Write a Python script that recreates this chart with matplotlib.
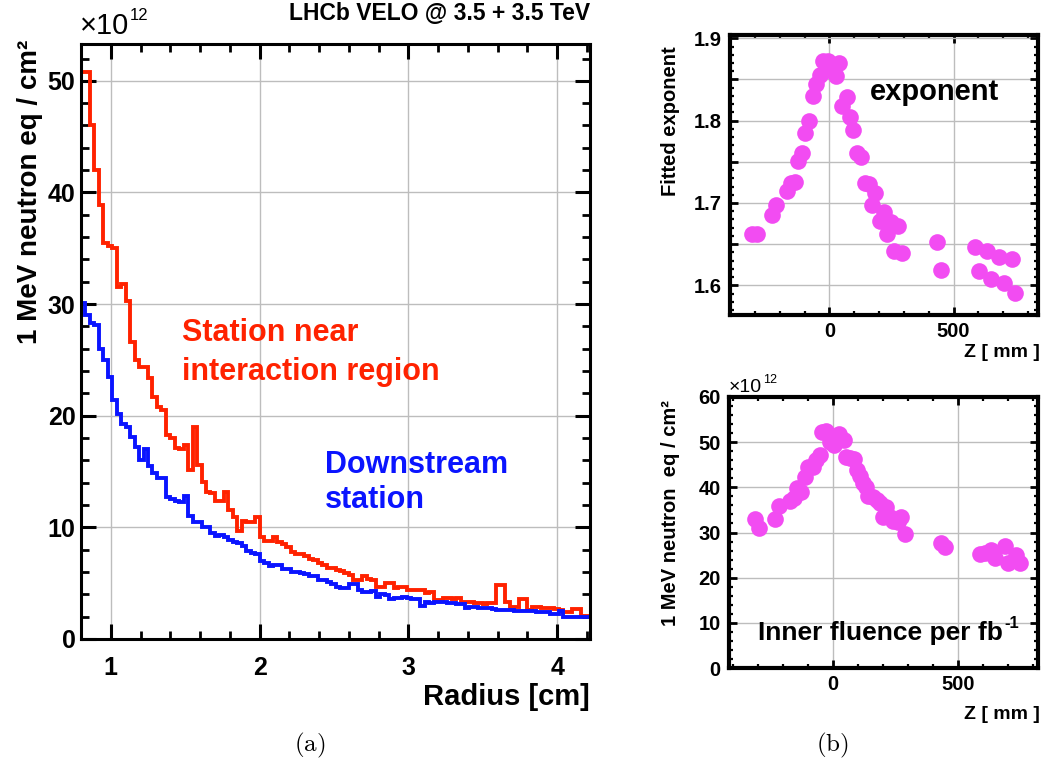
import numpy as np
import matplotlib
matplotlib.use('Agg')
import matplotlib.pyplot as plt
from matplotlib.ticker import MultipleLocator, FuncFormatter

plt.rcParams['font.family'] = ['Liberation Sans', 'DejaVu Sans']
plt.rcParams['font.weight'] = 'bold'
plt.rcParams['mathtext.fontset'] = 'cm'

# ---- data (a): fluence vs radius, bins of 0.03 cm from 0.8 cm ----
r_edges = np.linspace(0.80, 4.25, 116)
near_station = [
    50.8, 50.8, 46.0, 42.0, 38.9, 35.5, 35.2, 35.0, 31.5, 31.8,
    30.3, 26.6, 25.0, 24.4, 24.4, 23.4, 21.7, 20.8, 20.5, 18.3,
    18.0, 17.1, 17.0, 17.4, 15.1, 19.0, 15.6, 14.1, 13.2, 13.1,
    12.4, 12.4, 13.2, 11.6, 10.9, 9.7, 10.6, 10.5, 10.5, 10.9,
    9.1, 8.8, 8.8, 9.1, 8.7, 8.5, 8.2, 7.8, 7.6, 7.6,
    7.4, 7.2, 7.1, 6.8, 6.6, 6.4, 6.4, 6.2, 6.1, 5.9,
    5.7, 5.3, 5.3, 5.6, 5.4, 5.3, 4.7, 4.7, 5.0, 5.0,
    4.6, 4.7, 4.7, 4.4, 4.4, 4.4, 4.4, 4.1, 4.2, 3.5,
    3.5, 3.7, 3.7, 3.6, 3.7, 3.3, 3.3, 3.3, 3.2, 3.2,
    3.1, 3.2, 3.2, 4.8, 4.8, 3.3, 2.9, 2.9, 3.6, 3.6,
    2.6, 2.9, 2.9, 2.8, 2.8, 2.8, 2.7, 2.6, 2.4, 2.4,
    2.7, 2.7, 2.1, 2.1, 2.0]
downstream = [
    30.1, 29.0, 28.3, 28.1, 26.0, 25.0, 23.5, 21.4, 20.2, 19.3,
    19.0, 18.1, 17.2, 16.0, 17.0, 15.5, 14.9, 14.4, 14.4, 12.7,
    12.5, 12.4, 12.3, 12.8, 11.0, 10.5, 10.5, 10.0, 10.0, 9.5,
    9.2, 9.3, 9.1, 8.9, 8.7, 8.6, 8.3, 7.9, 7.7, 7.6,
    7.0, 6.8, 6.5, 6.6, 6.6, 6.3, 6.3, 6.0, 6.0, 5.9,
    5.8, 5.6, 5.6, 5.3, 5.3, 5.1, 4.9, 4.7, 4.6, 4.6,
    4.9, 4.9, 4.4, 4.2, 4.2, 4.3, 3.8, 4.0, 3.9, 3.6,
    3.7, 3.7, 3.8, 3.7, 3.6, 3.6, 3.0, 3.3, 3.2, 3.3,
    3.3, 3.3, 3.2, 3.2, 3.1, 3.1, 2.8, 2.9, 2.9, 2.8,
    2.8, 2.8, 2.7, 2.6, 2.6, 2.6, 2.6, 2.5, 2.5, 2.5,
    2.5, 2.5, 2.4, 2.4, 2.4, 2.2, 2.2, 2.5, 2.0, 2.0,
    2.0, 2.0, 2.0, 2.0, 2.0]

# ---- data (b): fitted exponent and inner fluence vs z ----
z_exp = [-313, -293, -230, -215, -172, -156, -138, -125, -112, -98,
         -81, -67, -54, -38, -27, -4, 9, 23, 27, 40,
         50, 70, 83, 97, 110, 126, 144, 161, 171, 184,
         202, 218, 231, 247, 261, 278, 292, 433, 450, 585,
         601, 634, 650, 681, 702, 735, 749]
exponent = [1.662, 1.662, 1.686, 1.698, 1.715, 1.724, 1.725, 1.751, 1.761, 1.785,
            1.800, 1.830, 1.845, 1.856, 1.872, 1.872, 1.860, 1.866, 1.854, 1.870,
            1.818, 1.829, 1.804, 1.789, 1.761, 1.756, 1.724, 1.723, 1.698, 1.712,
            1.678, 1.689, 1.662, 1.677, 1.642, 1.672, 1.639, 1.653, 1.619, 1.646,
            1.617, 1.642, 1.608, 1.635, 1.603, 1.632, 1.591]

z_flu = [-313, -297, -233, -216, -173, -157, -144, -127, -113, -100,
         -80, -67, -53, -43, -27, -13, 4, 13, 24, 43,
         51, 67, 83, 96, 107, 120, 131, 140, 160, 176,
         187, 200, 213, 227, 240, 260, 273, 287, 433, 447,
         587, 607, 633, 647, 687, 700, 731, 747]
fluence = [32.9, 30.9, 33.0, 35.9, 37.0, 37.7, 39.8, 39.0, 42.3, 44.6,
           44.6, 46.0, 47.1, 52.3, 52.4, 50.1, 49.3, 50.8, 51.9, 50.4,
           46.8, 46.6, 46.2, 43.8, 42.5, 41.0, 40.1, 38.1, 37.9, 37.2,
           36.5, 33.5, 35.6, 33.5, 32.6, 32.4, 33.5, 29.7, 27.6, 26.9,
           25.2, 25.4, 26.1, 24.4, 27.1, 23.2, 25.0, 23.2]

RED = '#ff2200'
BLUE = '#0a14ff'
MAG = '#f24cf2'
GRID = '#bdbdbd'

W, H = 1048, 769
fig = plt.figure(figsize=(W / 100, H / 100), dpi=100)


def frac_box(x0, y0, x1, y1):
    return [x0 / W, 1 - y1 / H, (x1 - x0) / W, (y1 - y0) / H]


def put(x, y, s, **kw):
    # place text with pixel coordinates measured from the top-left corner
    kw.setdefault('va', 'baseline')
    return fig.text(x / W, 1 - y / H, s, **kw)


def style_axes(ax, lw):
    for s in ax.spines.values():
        s.set_linewidth(lw)
    ax.tick_params(which='both', direction='in', top=True, right=True, colors='black')
    ax.grid(True, which='major', color=GRID, lw=1.0)
    ax.set_axisbelow(True)


# ---------------- panel (a) ----------------
ax = fig.add_axes(frac_box(81, 44, 590, 639))
ax.stairs(near_station, r_edges, baseline=0, color=RED, lw=2.8)
ax.stairs(downstream, r_edges, baseline=0, color=BLUE, lw=2.8)
ax.set_xlim(0.8, 4.22)
ax.set_ylim(0, 53.3)
style_axes(ax, 2.2)
ax.xaxis.set_major_locator(MultipleLocator(1))
ax.xaxis.set_minor_locator(MultipleLocator(0.2))
ax.yaxis.set_major_locator(MultipleLocator(10))
ax.yaxis.set_minor_locator(MultipleLocator(2))
ax.tick_params(which='major', length=11, width=2.2, labelsize=18)
ax.tick_params(which='minor', length=5.5, width=2.0)
ax.tick_params(axis='x', which='major', pad=12)
ax.tick_params(axis='y', which='major', pad=4)

put(182, 341, 'Station near', color=RED, fontsize=22, weight='bold')
put(182, 380, 'interaction region', color=RED, fontsize=22, weight='bold')
put(325, 473, 'Downstream', color=BLUE, fontsize=22, weight='bold')
put(325, 508, 'station', color=BLUE, fontsize=22, weight='bold')

put(590, 20, 'LHCb VELO @ 3.5 + 3.5 TeV', fontsize=16.5, weight='bold', ha='right')
put(80, 34, '\u00d710', fontsize=21, weight='normal')
put(130, 20, '12', fontsize=12, weight='normal')
put(30, 40, '1 MeV neutron eq / cm\u00b2', rotation=90, fontsize=20, weight='bold',
    ha='center', va='top')
put(590, 705, 'Radius [cm]', fontsize=21, weight='bold', ha='right')
put(310, 745, r'$\mathrm{(a)}$', fontsize=18, ha='center', va='center')

# ---------------- panel (b) top ----------------
axt = fig.add_axes(frac_box(730, 35, 1038, 315))
axt.plot(z_exp, exponent, 'o', color=MAG, ms=12, mec='none')
axt.set_xlim(-400, 840)
axt.set_ylim(1.564, 1.904)
style_axes(axt, 3.0)
axt.xaxis.set_major_locator(MultipleLocator(500))
axt.xaxis.set_minor_locator(MultipleLocator(100))
axt.yaxis.set_major_locator(MultipleLocator(0.05))
axt.yaxis.set_minor_locator(MultipleLocator(0.01))
axt.yaxis.set_major_formatter(FuncFormatter(
    lambda v, p: ('%.1f' % v) if abs(round(v * 10) - v * 10) < 1e-6 else ''))
axt.tick_params(which='major', length=6, width=2.0, labelsize=14.5)
axt.tick_params(which='minor', length=3, width=1.6)
axt.tick_params(axis='x', which='major', pad=5)
axt.tick_params(axis='y', which='major', pad=6)
put(870, 100, 'exponent', fontsize=21, weight='bold')
put(670, 46, 'Fitted exponent', rotation=90, fontsize=14.5, weight='bold',
    ha='center', va='top')
put(1040, 357, 'Z [ mm ]', fontsize=14, weight='bold', ha='right')

# ---------------- panel (b) bottom ----------------
axb = fig.add_axes(frac_box(729, 397, 1038, 668))
axb.plot(z_flu, fluence, 'o', color=MAG, ms=12, mec='none')
axb.set_xlim(-416, 820)
axb.set_ylim(0, 60)
style_axes(axb, 3.0)
axb.xaxis.set_major_locator(MultipleLocator(500))
axb.xaxis.set_minor_locator(MultipleLocator(100))
axb.yaxis.set_major_locator(MultipleLocator(10))
axb.yaxis.set_minor_locator(MultipleLocator(2))
axb.tick_params(which='major', length=6, width=2.0, labelsize=14.5)
axb.tick_params(which='minor', length=3, width=1.6)
axb.tick_params(axis='x', which='major', pad=5)
axb.tick_params(axis='y', which='major', pad=6)
put(758, 640, 'Inner fluence per fb', fontsize=19, weight='bold')
put(1004, 628, '-1', fontsize=12, weight='bold')
put(729, 392, '\u00d710', fontsize=14, weight='normal')
put(763, 383, '12', fontsize=9, weight='normal')
put(670, 400, '1 MeV neutron  eq / cm\u00b2', rotation=90, fontsize=14.5, weight='bold',
    ha='center', va='top')
put(1040, 719, 'Z [ mm ]', fontsize=14, weight='bold', ha='right')
put(832, 745, r'$\mathrm{(b)}$', fontsize=18, ha='center', va='center')

fig.savefig('out.png', dpi=100)
